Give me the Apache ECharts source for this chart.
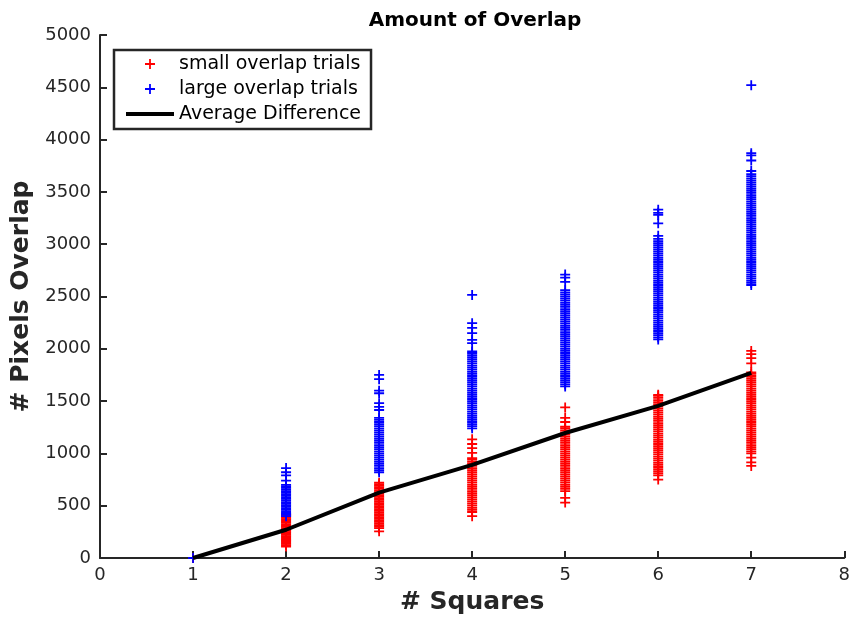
<!DOCTYPE html>
<html>
<head>
<meta charset="utf-8">
<script src="https://cdn.jsdelivr.net/npm/echarts@6/dist/echarts.min.js"></script>
<style>html,body{margin:0;padding:0;background:#fff;}#c{width:853px;height:623px;}</style>
</head>
<body>
<div id="c"></div>
<script>
// # Squares categories
const squares = [1, 2, 3, 4, 5, 6, 7];
// small overlap trials, per # squares
const small1 = [0];
const small2 = [110, 122, 135, 148, 160, 172, 185, 198, 210, 222, 235, 248, 260, 272, 285, 298, 310, 322, 335, 348, 360, 372, 385, 398, 410, 420];
const small3 = [255, 285, 300, 315, 330, 345, 360, 375, 390, 405, 420, 435, 450, 465, 480, 495, 510, 525, 540, 555, 570, 585, 600, 615, 630, 645, 660, 675, 690, 705, 720];
const small4 = [400, 440, 460, 480, 500, 520, 540, 560, 580, 600, 620, 640, 660, 680, 700, 720, 740, 760, 780, 800, 820, 840, 860, 880, 900, 920, 940, 955, 1005, 1050, 1090, 1135];
const small5 = [530, 575, 640, 660, 680, 700, 720, 740, 760, 780, 800, 820, 840, 860, 880, 900, 920, 940, 960, 980, 1000, 1020, 1040, 1060, 1080, 1100, 1120, 1140, 1160, 1180, 1200, 1220, 1240, 1255, 1300, 1340, 1440];
const small6 = [750, 790, 810, 830, 850, 870, 890, 910, 930, 950, 970, 990, 1010, 1030, 1050, 1070, 1090, 1110, 1130, 1150, 1170, 1190, 1210, 1230, 1250, 1270, 1290, 1310, 1330, 1350, 1370, 1390, 1410, 1430, 1450, 1470, 1490, 1510, 1530, 1550, 1560];
const small7 = [880, 915, 960, 1000, 1020, 1040, 1060, 1080, 1100, 1120, 1140, 1160, 1180, 1200, 1220, 1240, 1260, 1280, 1300, 1320, 1340, 1360, 1380, 1400, 1420, 1440, 1460, 1480, 1500, 1520, 1540, 1560, 1580, 1600, 1620, 1640, 1660, 1680, 1700, 1720, 1740, 1760, 1775, 1860, 1910, 1950, 1980];
// large overlap trials, per # squares
const large1 = [0];
const large2 = [400, 415, 430, 445, 460, 475, 490, 505, 520, 535, 550, 565, 580, 595, 610, 625, 640, 655, 670, 685, 700, 740, 790, 820, 860];
const large3 = [820, 840, 860, 880, 900, 920, 940, 960, 980, 1000, 1020, 1040, 1060, 1080, 1100, 1120, 1140, 1160, 1180, 1200, 1220, 1240, 1260, 1280, 1300, 1320, 1340, 1415, 1445, 1480, 1575, 1600, 1710, 1750];
const large4 = [1240, 1260, 1280, 1300, 1320, 1340, 1360, 1380, 1400, 1420, 1440, 1460, 1480, 1500, 1520, 1540, 1560, 1580, 1600, 1620, 1640, 1660, 1680, 1700, 1720, 1740, 1760, 1780, 1800, 1820, 1840, 1860, 1880, 1900, 1920, 1940, 1960, 1975, 2055, 2085, 2150, 2200, 2245, 2515];
const large5 = [1640, 1660, 1680, 1700, 1720, 1740, 1760, 1780, 1800, 1820, 1840, 1860, 1880, 1900, 1920, 1940, 1960, 1980, 2000, 2020, 2040, 2060, 2080, 2100, 2120, 2140, 2160, 2180, 2200, 2220, 2240, 2260, 2280, 2300, 2320, 2340, 2360, 2380, 2400, 2420, 2440, 2460, 2480, 2500, 2520, 2540, 2560, 2640, 2680, 2710];
const large6 = [2090, 2110, 2130, 2150, 2170, 2190, 2210, 2230, 2250, 2270, 2290, 2310, 2330, 2350, 2370, 2390, 2410, 2430, 2450, 2470, 2490, 2510, 2530, 2550, 2570, 2590, 2610, 2630, 2650, 2670, 2690, 2710, 2730, 2750, 2770, 2790, 2810, 2830, 2850, 2870, 2890, 2910, 2930, 2950, 2970, 2990, 3010, 3030, 3050, 3080, 3200, 3280, 3300, 3330];
const large7 = [2610, 2630, 2650, 2670, 2690, 2710, 2730, 2750, 2770, 2790, 2810, 2830, 2850, 2870, 2890, 2910, 2930, 2950, 2970, 2990, 3010, 3030, 3050, 3070, 3090, 3110, 3130, 3150, 3170, 3190, 3210, 3230, 3250, 3270, 3290, 3310, 3330, 3350, 3370, 3390, 3410, 3430, 3450, 3470, 3490, 3510, 3530, 3550, 3570, 3590, 3610, 3630, 3650, 3670, 3700, 3800, 3850, 3870, 4520];
// Average Difference line
const avgDiff = [0, 270, 625, 890, 1195, 1455, 1770];
// axis ticks
const xTicks = [0, 1, 2, 3, 4, 5, 6, 7, 8];
const yTicks = [0, 500, 1000, 1500, 2000, 2500, 3000, 3500, 4000, 4500, 5000];

const smallSets = [small1, small2, small3, small4, small5, small6, small7];
const largeSets = [large1, large2, large3, large4, large5, large6, large7];
function toPts(sets) {
  const out = [];
  sets.forEach((arr, i) => arr.forEach(v => out.push([squares[i], v])));
  return out;
}
const plus = 'path://M0,4.1H10V5.9H0Z M4.1,0H5.9V10H4.1Z';
const FONT = 'DejaVu Sans';
const AX = '#262626';

const chart = echarts.init(document.getElementById('c'), null, {renderer: 'canvas'});
chart.setOption({
  animation: false,
  backgroundColor: '#ffffff',
  textStyle: {fontFamily: FONT},
  title: {
    text: 'Amount of Overlap',
    left: 470, top: 6, textAlign: 'center',
    textStyle: {fontFamily: FONT, fontSize: 20, fontWeight: 'bold', color: '#000'}
  },
  legend: {
    orient: 'vertical', left: 114, top: 50,
    padding: [3, 10, 4, 10], itemGap: 3,
    itemWidth: 48, itemHeight: 10,
    borderColor: AX, borderWidth: 2.5, backgroundColor: '#fff',
    textStyle: {fontFamily: FONT, fontSize: 19, color: '#000', lineHeight: 22},
    data: [
      {name: 'small overlap trials'},
      {name: 'large overlap trials'},
      {name: 'Average Difference', itemStyle: {opacity: 0}, lineStyle: {width: 4, color: '#000'}}
    ]
  },
  grid: {left: 100, right: 5, top: 35, bottom: 65, containLabel: false},
  xAxis: {
    type: 'value', min: xTicks[0], max: xTicks[xTicks.length - 1], interval: 1,
    name: '# Squares', nameLocation: 'middle', nameGap: 32,
    nameTextStyle: {fontFamily: FONT, fontSize: 25, fontWeight: 'bold', color: AX},
    axisLine: {show: true, onZero: false, lineStyle: {color: AX, width: 2}},
    axisTick: {show: true, inside: true, length: 7, lineStyle: {color: AX, width: 2}},
    axisLabel: {fontFamily: FONT, fontSize: 18, color: AX, margin: 8, formatter: v => String(v)},
    splitLine: {show: false}
  },
  yAxis: {
    type: 'value', min: yTicks[0], max: yTicks[yTicks.length - 1], interval: 500,
    name: '# Pixels Overlap', nameLocation: 'middle', nameGap: 66, nameRotate: 90,
    nameTextStyle: {fontFamily: FONT, fontSize: 25, fontWeight: 'bold', color: AX},
    axisLine: {show: true, lineStyle: {color: AX, width: 2}},
    axisTick: {show: true, inside: true, length: 7, lineStyle: {color: AX, width: 2}},
    axisLabel: {fontFamily: FONT, fontSize: 18, color: AX, margin: 9, formatter: v => String(v)},
    splitLine: {show: false}
  },
  series: [
    {
      name: 'small overlap trials', type: 'scatter', symbol: plus, symbolSize: 10,
      itemStyle: {color: '#ff0000', opacity: 1}, z: 2,
      data: toPts(smallSets)
    },
    {
      name: 'large overlap trials', type: 'scatter', symbol: plus, symbolSize: 10,
      itemStyle: {color: '#0000ff', opacity: 1}, z: 3,
      data: toPts(largeSets)
    },
    {
      name: 'Average Difference', type: 'line', symbol: 'none', showSymbol: false,
      lineStyle: {color: '#000', width: 4}, itemStyle: {color: '#000'}, z: 4,
      data: squares.map((s, i) => [s, avgDiff[i]])
    }
  ]
});
</script>
</body>
</html>
